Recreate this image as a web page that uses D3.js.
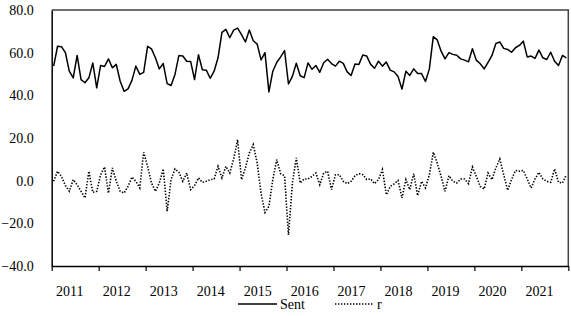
<!DOCTYPE html>
<html>
<head>
<meta charset="utf-8">
<script src="https://cdn.jsdelivr.net/npm/d3@7"></script>
<style>
body { margin: 0; background: #fff; }
text { font-family: "Liberation Serif", "Times New Roman", serif; }
</style>
</head>
<body>
<div id="chart"></div>
<script>
var w = 571; var h = 316;

var years = [2011, 2012, 2013, 2014, 2015, 2016, 2017, 2018, 2019, 2020, 2021];
var yTicks = [-40, -20, 0, 20, 40, 60, 80];
var seriesNames = ['Sent', 'r'];

// monthly values, one row per year
var sent = [
	53.7, 63.0, 62.8, 60.0, 51.3, 48.2, 58.7, 47.4, 45.9, 48.2, 55.2, 43.5,
	54.0, 53.5, 57.1, 52.9, 54.5, 46.6, 41.9, 43.0, 47.0, 53.7, 49.8, 50.8,
	63.0, 61.8, 57.6, 52.4, 54.9, 45.5, 44.6, 49.8, 58.7, 58.4, 56.0, 55.9,
	47.4, 59.0, 52.0, 51.8, 48.0, 51.3, 57.6, 69.5, 70.9, 67.0, 70.6, 71.5,
	68.5, 65.0, 70.6, 65.6, 64.0, 56.6, 60.0, 41.6, 51.3, 55.4, 58.0, 61.0,
	45.3, 48.9, 55.0, 49.2, 48.3, 55.2, 52.2, 54.0, 50.8, 55.3, 56.9, 54.9,
	53.7, 56.0, 55.0, 51.0, 49.3, 54.7, 54.5, 58.9, 58.4, 54.5, 52.7, 56.0,
	53.7, 55.6, 51.8, 51.0, 48.8, 42.9, 51.3, 49.3, 52.4, 50.2, 50.2, 46.5,
	52.4, 67.5, 66.0, 60.7, 57.1, 60.0, 59.2, 58.8, 57.1, 56.5, 55.7, 61.8,
	56.5, 54.8, 52.4, 55.5, 58.7, 64.3, 65.0, 62.0, 61.5, 60.2, 62.3, 63.4,
	65.4, 58.0, 58.4, 57.3, 61.2, 57.6, 56.8, 60.2, 56.0, 54.0, 58.7, 57.6
];

var r = [
	-0.3, 4.4, 2.0, -2.3, -5.0, 0.5, -1.9, -5.0, -8.1, 4.4, -5.5, -5.0,
	2.8, 6.4, -5.8, 6.0, -0.3, -5.0, -5.8, -2.7, 1.7, -0.3, -3.4, 13.3,
	6.7, -1.1, -5.0, -1.1, 5.5, -14.4, 0.5, 5.5, 3.9, -0.3, 3.6, -4.2,
	-2.3, 1.3, -0.8, -0.3, 0.5, 0.8, 6.7, 1.3, 6.7, 3.6, 10.2, 19.2,
	0.5, 6.0, 13.0, 16.9, 8.3, -6.0, -14.9, -12.0, 0.5, 9.9, 3.3, 2.3,
	-25.4, -1.1, 10.7, -1.1, 0.8, 0.8, 2.0, 3.6, -1.9, 3.6, 4.4, -4.2,
	2.8, 2.8, -0.3, -1.4, -0.3, 2.3, 3.3, 2.8, 0.5, 0.8, -1.4, 0.5,
	5.2, -6.6, -2.7, -1.5, 0.1, -8.1, 0.5, -4.2, 3.3, -7.0, -0.3, -3.4,
	2.8, 13.3, 8.3, 2.0, -5.0, 2.3, -0.3, -1.1, 0.8, 0.8, -1.4, 6.4,
	2.0, -2.7, -3.9, 3.6, 0.5, 6.0, 10.2, 2.8, -4.5, 0.5, 4.8, 4.4,
	4.8, 0.8, -3.4, 0.8, 3.9, 0.8, -0.3, -0.8, 5.5, -0.8, -1.1, 2.8
];

var plotLeft = 51.7, plotRight = 568.3, plotTop = 10, plotBottom = 266;

function drawChart() {
	var svg = d3.select('#chart')
				.append('svg')
				.attr('width', w)
				.attr('height', h);

	var nMonths = years.length * 12;

	var x = d3.scaleLinear()
				.domain([0, nMonths])
				.range([plotLeft, plotRight]);

	var y = d3.scaleLinear()
				.domain([-40, 80])
				.range([plotBottom, plotTop]);

	// plot frame (top and right)
	svg.append('path')
		.attr('d', 'M' + plotLeft + ',' + plotTop + 'H' + plotRight + 'V' + plotBottom)
		.attr('fill', 'none')
		.attr('stroke', '#404040')
		.attr('stroke-width', 1.5);

	// y axis labels, no ticks
	var yAxis = d3.axisLeft(y)
				.tickValues(yTicks)
				.tickSize(0)
				.tickPadding(18)
				.tickFormat(d3.format('.1f'));

	var gy = svg.append('g')
		.attr('transform', 'translate(' + plotLeft + ',0)')
		.call(yAxis);
	gy.select('.domain').attr('stroke', '#000').attr('stroke-width', 1.5);
	gy.selectAll('text')
		.attr('font-family', '"Liberation Serif", serif')
		.attr('font-size', 14)
		.attr('fill', '#000');

	// x axis: ticks at year boundaries
	var monthTicks = d3.range(0, nMonths + 1, 12);
	var xAxis = d3.axisBottom(x)
				.tickValues(monthTicks)
				.tickSize(5)
				.tickSizeOuter(0)
				.tickFormat('');

	var gx = svg.append('g')
		.attr('transform', 'translate(0,' + plotBottom + ')')
		.call(xAxis);
	gx.select('.domain').attr('stroke', '#000').attr('stroke-width', 1.5);
	gx.selectAll('.tick line').attr('stroke', '#000').attr('stroke-width', 1.2);

	// year labels, sitting a little left of each year's middle
	var yearAxis = d3.axisBottom(x)
				.tickValues(years.map(function(d, i) { return i * 12 + 4.5; }))
				.tickSize(0)
				.tickPadding(20)
				.tickFormat(function(d) { return years[(d - 4.5) / 12]; });

	var gyear = svg.append('g')
		.attr('transform', 'translate(0,' + plotBottom + ')')
		.call(yearAxis);
	gyear.select('.domain').remove();
	gyear.selectAll('text')
		.attr('font-family', '"Liberation Serif", serif')
		.attr('font-size', 14)
		.attr('fill', '#000');

	var line = d3.line()
				.x(function(d, i) { return x(i + 0.5); })
				.y(function(d) { return y(d); });

	svg.append('path')
		.datum(sent)
		.attr('d', line)
		.attr('fill', 'none')
		.attr('stroke', '#000')
		.attr('stroke-width', 1.5)
		.attr('stroke-linejoin', 'round');

	svg.append('path')
		.datum(r)
		.attr('d', line)
		.attr('fill', 'none')
		.attr('stroke', '#000')
		.attr('stroke-width', 1.6)
		.attr('stroke-dasharray', '1.4,1.6');

	// legend
	var legend = [
		{name: seriesNames[0], x: 238, dash: null},
		{name: seriesNames[1], x: 335, dash: '1.4,1.6'}
	];
	var ly = 304;
	var lg = svg.selectAll('.legend')
				.data(legend)
				.enter()
				.append('g')
				.attr('class', 'legend');

	lg.append('line')
		.attr('x1', function(d) { return d.x; })
		.attr('x2', function(d) { return d.x + 39; })
		.attr('y1', ly)
		.attr('y2', ly)
		.attr('stroke', '#000')
		.attr('stroke-width', 1.5)
		.attr('stroke-dasharray', function(d) { return d.dash; });

	lg.append('text')
		.attr('x', function(d) { return d.x + 42; })
		.attr('y', ly + 5)
		.attr('font-size', 14)
		.attr('fill', '#000')
		.text(function(d) { return d.name; });
}

drawChart();
</script>
</body>
</html>
